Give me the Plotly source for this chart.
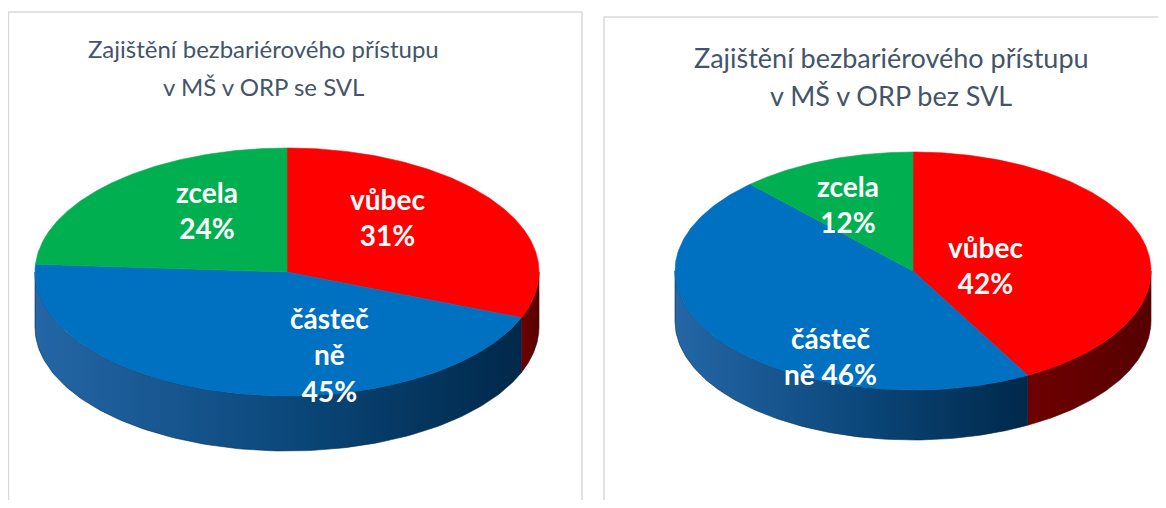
import numpy as np
import plotly.graph_objects as go

# ---- data ----
categories = ["vůbec", "částečně", "zcela"]
left_values = [31, 45, 24]
right_values = [42, 46, 12]
left_label_names = ["vůbec", "částeč<br>ně", "zcela"]
right_label_names = ["vůbec", "částeč<br>ně", "zcela"]
left_title_lines = ["Zajištění bezbariérového přístupu", "v MŠ v ORP se SVL"]
right_title_lines = ["Zajištění bezbariérového přístupu", "v MŠ v ORP bez SVL"]

# ---- styles ----
top_colors = ["#FF0000", "#0070C0", "#00B050"]
side_scales = [
    [[0, "#6E0000"], [1, "#560000"]],
    [[0, "#2466A6"], [0.55, "#0A4678"], [1, "#00284A"]],
    [[0, "#00803A"], [1, "#005A28"]],
]

# page body has an 8px margin; keep the figure inside the window
PAD = 8
W, H = 1166 - 2 * PAD, 508 - 2 * PAD
fig = go.Figure()


def pie3d(values, cx, cy, a, b, depth):
    total = float(sum(values))
    bounds = np.concatenate([[0], np.cumsum(values)]) / total * 2 * np.pi
    # side walls (front half only)
    for i in range(len(values)):
        t1, t2 = bounds[i], bounds[i + 1]
        lo, hi = max(t1, np.pi / 2), min(t2, 3 * np.pi / 2)
        if lo < hi:
            ts = np.linspace(lo, hi, 120)
            xt = cx + a * np.sin(ts)
            yt = cy - b * np.cos(ts)
            xs = np.concatenate([xt, xt[::-1], xt[:1]])
            ys = np.concatenate([yt, (yt + depth)[::-1], yt[:1]])
            fig.add_trace(go.Scatter(
                x=xs, y=ys, mode="lines", fill="toself",
                line=dict(width=0.6, color=side_scales[i][-1][1]),
                fillgradient=dict(type="horizontal", colorscale=side_scales[i]),
                hoverinfo="skip", showlegend=False))
    # top faces
    for i in range(len(values)):
        t1, t2 = bounds[i], bounds[i + 1]
        ts = np.linspace(t1, t2, 200)
        xs = np.concatenate([[cx], cx + a * np.sin(ts), [cx]])
        ys = np.concatenate([[cy], cy - b * np.cos(ts), [cy]])
        fig.add_trace(go.Scatter(
            x=xs, y=ys, mode="lines", fill="toself",
            line=dict(width=0.6, color=top_colors[i]),
            fillcolor=top_colors[i], name=categories[i],
            text=f"{categories[i]}: {values[i]}%", hoverinfo="text",
            showlegend=False))


pie3d(left_values, 287, 272, 252, 124, 55)
pie3d(right_values, 913, 271, 238, 119, 50)

label_font = dict(family="Lato", size=28, color="white")

left_pos = [(387, 217), (329, 354), (207, 210)]
left_texts = [
    f"<b>{left_label_names[0]}<br>{left_values[0]}%</b>",
    f"<b>{left_label_names[1]}<br>{left_values[1]}%</b>",
    f"<b>{left_label_names[2]}<br>{left_values[2]}%</b>",
]
for (x, y), t in zip(left_pos, left_texts):
    fig.add_annotation(x=x, y=y, text=t, showarrow=False, font=label_font,
                       xref="x", yref="y")

right_pos = [(985, 265), (830, 356), (848, 204)]
right_texts = [
    f"<b>{right_label_names[0]}<br>{right_values[0]}%</b>",
    f"<b>{right_label_names[1]} {right_values[1]}%</b>",
    f"<b>{right_label_names[2]}<br>{right_values[2]}%</b>",
]
for (x, y), t in zip(right_pos, right_texts):
    fig.add_annotation(x=x, y=y, text=t, showarrow=False, font=label_font,
                       xref="x", yref="y")

title_color = "#44546A"
for line, yy in zip(left_title_lines, [48, 86]):
    fig.add_annotation(x=263, y=yy, text=line, showarrow=False,
                       font=dict(family="Lato", size=24, color=title_color),
                       xref="x", yref="y")
for line, yy in zip(right_title_lines, [57, 95]):
    fig.add_annotation(x=891, y=yy, text=line, showarrow=False,
                       font=dict(family="Lato", size=27, color=title_color),
                       xref="x", yref="y")

# panel borders
fig.add_shape(type="rect", x0=8.5, x1=582, y0=12, y1=530, xref="x", yref="y",
              line=dict(color="#D9D9D9", width=1.5), layer="below")
fig.add_shape(type="rect", x0=604, x1=1180, y0=17, y1=530, xref="x", yref="y",
              line=dict(color="#D9D9D9", width=1.5), layer="below")

fig.update_layout(
    width=W, height=H,
    margin=dict(l=0, r=0, t=0, b=0),
    paper_bgcolor="white", plot_bgcolor="white",
    xaxis=dict(range=[PAD, PAD + W], visible=False, fixedrange=True),
    yaxis=dict(range=[PAD + H, PAD], visible=False, fixedrange=True),
    showlegend=False,
)

fig.write_html("out.html")
